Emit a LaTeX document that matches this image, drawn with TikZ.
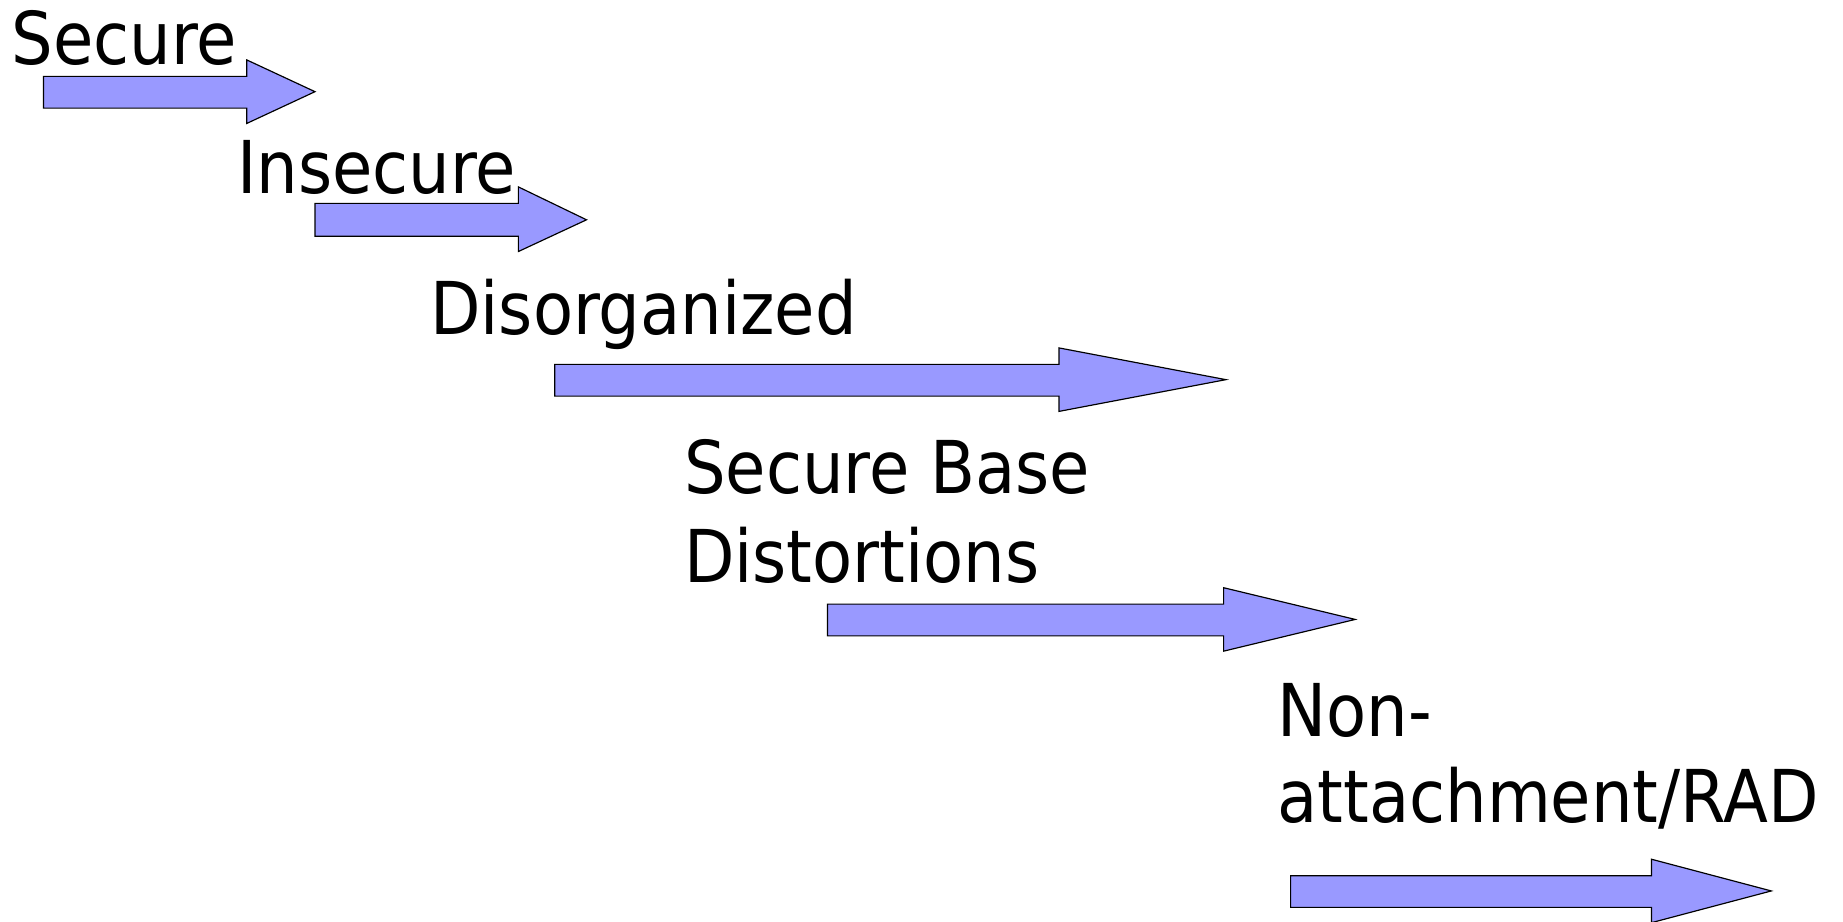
\documentclass[tikz,border=0pt]{standalone}
\usepackage{fontspec}
\setmainfont{DejaVu Sans Condensed}
\definecolor{arrowfill}{RGB}{153,153,255}
\tikzset{
  lbl/.style={anchor=base west, inner sep=0pt, outer sep=0pt, font=\fontsize{62}{76}\selectfont},
  bigarrow/.style={fill=arrowfill, draw=black, line width=1pt, line join=miter}
}
\begin{document}
\begin{tikzpicture}[x=1pt,y=-1pt]
\useasboundingbox (0,0) rectangle (1568,784);
% labels
\node[lbl] (secure) at (10,55) {Secure};
\node[lbl] (insecure) at (202,165) {Insecure};
\node[lbl] (disorg) at (366,285) {Disorganized};
\node[lbl] (sbase1) at (582,420) {Secure Base};
\node[lbl] (sbase2) at (582,496) {Distortions};
\node[lbl] (non1) at (1087,627) {Non-};
\node[lbl] (non2) at (1087,700) {attachment/RAD};
% arrows
\draw[bigarrow] (37,65) -- (210,65) -- (210,51) -- (268,78) -- (210,105) -- (210,92) -- (37,92) -- cycle;
\draw[bigarrow] (268,173) -- (441,173) -- (441,159) -- (499,187) -- (441,214) -- (441,201) -- (268,201) -- cycle;
\draw[bigarrow] (472,310) -- (901,310) -- (901,296) -- (1043,323) -- (901,350) -- (901,337) -- (472,337) -- cycle;
\draw[bigarrow] (704,514) -- (1041,514) -- (1041,500) -- (1153,527) -- (1041,554) -- (1041,541) -- (704,541) -- cycle;
\draw[bigarrow] (1098,745) -- (1405,745) -- (1405,731) -- (1507,758) -- (1405,785) -- (1405,772) -- (1098,772) -- cycle;
\end{tikzpicture}
\end{document}
